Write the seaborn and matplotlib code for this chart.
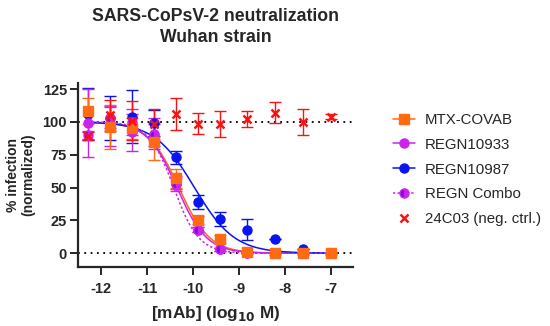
import numpy as np
import pandas as pd
import matplotlib
matplotlib.use("Agg")
import matplotlib.pyplot as plt
import seaborn as sns

# ---- data ----
log_dose = [-12.28, -11.8, -11.33, -10.85, -10.37, -9.89, -9.41, -8.82, -8.21, -7.6, -7.0]

mtx_mean = [108, 96, 95, 85, 57, 25, 11, 1, 0, 0, 0]
mtx_sd = [10, 17, 8, 14, 7, 3, 3, 1, 1, 1, 1]

r33_mean = [99, 97, 92, 91, 53, 18, 3, 0, 0, 0, 0]
r33_sd = [26, 15, 14, 12, 6, 2, 1, 0, 0, 0, 0]

r87_mean = [106, 103, 104, 99, 73, 39, 26, 18, 11, 3, 0.5]
r87_sd = [20, 17, 20, 10, 5, 5, 5.5, 8, 0, 0, 0]

combo_mean = [90, 103, 100, 90, 53, 18, 3, 0, 0, 0, 0]
combo_sd = [3, 8, 10, 8, 4, 2, 1, 0, 0, 0, 0]

neg_mean = [89, 105, 101, 98, 106, 98.5, 98.5, 102, 107, 100, 104]
neg_sd = [3, 12, 15, 12, 12, 8, 10, 6, 8, 10, 2]

# fitted 4PL parameters (top, bottom, logIC50, hill)
fit_names = ["MTX-COVAB", "REGN10933", "REGN10987", "REGN Combo"]
fit_logic50 = [-10.31, -10.35, -9.97, -10.42]
fit_hill = [1.3, 1.35, 1.0, 1.6]

names = ["MTX-COVAB", "REGN10933", "REGN10987", "REGN Combo", "24C03 (neg. ctrl.)"]
colors = ["#ff6a13", "#cc22ee", "#0a14f0", "#cc22ee", "#ff1010"]

x_ticks = [-12, -11, -10, -9, -8, -7]
y_ticks = [0, 25, 50, 75, 100, 125]

# ---- plotting ----
sns.set_style("ticks")
plt.rcParams["font.family"] = ["Liberation Sans", "DejaVu Sans"]

fig = plt.figure(figsize=(5.5, 3.26), dpi=100)
ax = fig.add_axes([0.142, 0.181, 0.5, 0.564])

ax.axhline(100, color="black", ls=(0, (1, 2.5)), lw=1.3, zorder=1)
ax.axhline(0, color="black", ls=(0, (1, 2.5)), lw=1.3, zorder=1)

# fitted curves
xs = np.linspace(-12.3, -7.0, 300)
rows = []
for n, c50, h in zip(fit_names, fit_logic50, fit_hill):
    ys = 100.0 / (1.0 + 10 ** ((xs - c50) * h))
    rows.append(pd.DataFrame({"x": xs, "y": ys, "name": n}))
curves = pd.concat(rows)
pal = dict(zip(names, colors))
for n in fit_names:
    d = curves[curves.name == n]
    sns.lineplot(data=d, x="x", y="y", ax=ax, color=pal[n], lw=1.1,
                 ls=(0, (1.5, 1.5)) if n == "REGN Combo" else "-",
                 legend=False, zorder=2)

series = [
    ("REGN10987", r87_mean, r87_sd, dict(marker="o", ms=6.5)),
    ("REGN10933", r33_mean, r33_sd, dict(marker="o", ms=6.5)),
    ("REGN Combo", combo_mean, combo_sd, dict(marker="o", ms=6.5, fillstyle="right",
                                              markerfacecoloralt="#7a10d8")),
    ("MTX-COVAB", mtx_mean, mtx_sd, dict(marker="s", ms=6.5)),
    ("24C03 (neg. ctrl.)", neg_mean, neg_sd, dict(marker="x", ms=6, mew=1.8)),
]
handles = {}
for n, m, s, kw in series:
    col = pal[n]
    ax.errorbar(log_dose, m, yerr=s, fmt="none", ecolor=col, elinewidth=1.0,
                capsize=4, capthick=1.0, zorder=3)
    mk = dict(kw)
    mk.setdefault("mec", col)
    ax.plot(log_dose, m, ls="none", color=col, mfc=col, zorder=4, **mk)
    ls = "none" if n.startswith("24C03") else ((0, (1.5, 1.5)) if n == "REGN Combo" else "-")
    handles[n] = plt.Line2D([], [], color=col, ls=ls, lw=1.1, mfc=col, **mk)

ax.set_xlim(-12.5, -6.52)
ax.set_ylim(-10.5, 129.5)
ax.set_xticks(x_ticks)
ax.set_xticklabels([str(t) for t in x_ticks])
ax.set_yticks(y_ticks)
for sp in ["top", "right"]:
    ax.spines[sp].set_visible(False)
for sp in ["left", "bottom"]:
    ax.spines[sp].set_linewidth(1.6)
ax.tick_params(axis="y", width=1.4, length=6, labelsize=10.5, pad=2)
ax.tick_params(axis="x", width=1.4, length=5.5, labelsize=10.5, pad=5)
for lab in ax.get_xticklabels() + ax.get_yticklabels():
    lab.set_fontweight("bold")

ax.set_xlabel(r"[mAb] (log$_{\mathbf{10}}$ M)", fontsize=12.4, fontweight="bold", labelpad=6)
ax.set_ylabel("% infection\n(normalized)", fontsize=10, fontweight="bold", labelpad=5,
              linespacing=1.15)
ax.set_title("SARS-CoPsV-2 neutralization\nWuhan strain", fontsize=12.7,
             fontweight="bold", pad=29.5, linespacing=1.35)

leg = fig.legend([handles[n] for n in names], names, loc="center left",
                 bbox_to_anchor=(0.69, 0.48), frameon=False, fontsize=10.8,
                 handlelength=1.5, labelspacing=0.72, handletextpad=0.65)

fig.savefig("out.png", dpi=100)
